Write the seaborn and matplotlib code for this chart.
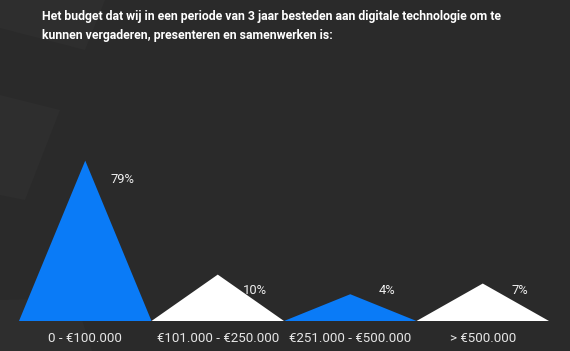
import numpy as np
import pandas as pd
import seaborn as sns
import matplotlib.pyplot as plt
from matplotlib.patches import Polygon

# data
categories = ["0 - €100.000", "€101.000 - €250.000", "€251.000 - €500.000", "> €500.000"]
values = [79, 10, 4, 7]
colors = ["#0a7bf7", "#ffffff", "#0a7bf7", "#ffffff"]
title = ("Het budget dat wij in een periode van 3 jaar besteden aan digitale technologie om te\n"
         "kunnen vergaderen, presenteren en samenwerken is:")

bg = "#2a2a2a"
sns.set_theme(style="dark")
plt.rcParams["font.family"] = ["Roboto", "DejaVu Sans"]

fig = plt.figure(figsize=(5.7, 3.51), dpi=100, facecolor=bg)

# subtle background shapes (figure pixels, origin top-left)
W, H = 570, 351
shapes = [
    [(0, 0), (105, 0), (85, 50), (0, 28)],
    [(0, 95), (60, 110), (25, 200), (0, 195)],
    [(0, 300), (75, 298), (92, 351), (0, 351)],
]
for s in shapes:
    pts = [(x / W, 1 - y / H) for x, y in s]
    fig.patches.append(Polygon(pts, closed=True, transform=fig.transFigure,
                               facecolor="#2e2e2e", edgecolor="none", zorder=0))

ax = fig.add_axes([19 / W, 30 / H, 530 / W, 171 / H])
ax.set_facecolor("none")
ax.set_zorder(2)

# heights drawn on a power scale (as in the reference)
p = 0.6
fwd = lambda v: np.sign(v) * np.abs(v) ** p
inv = lambda v: np.sign(v) * np.abs(v) ** (1 / p)
ax.set_yscale("function", functions=(fwd, inv))

df = pd.DataFrame({"cat": categories, "val": values, "color": colors})
for i, row in df.iterrows():
    xs = [i - 0.5, i, i + 0.5]
    ys = [0, row["val"], 0]
    ax.fill(xs, ys, color=row["color"], lw=0, zorder=3)
    # label a bit right of and below the apex, kept above the base
    ty = max(fwd(row["val"]) - 1.6, 2.65)
    ax.text(i + 0.28, inv(ty), f"{row['val']}%", color="#eeeeee",
            fontsize=9.4, ha="center", va="center", zorder=4)

ax.set_xlim(-0.5, 3.5)
ax.set_ylim(0, inv(14.67))
ax.set_xticks(range(len(categories)))
ax.set_xticklabels(categories, color="#e6e6e6", fontsize=9.6)
ax.tick_params(axis="x", length=0, pad=8)
ax.set_yticks([])
ax.grid(False)
for sp in ax.spines.values():
    sp.set_visible(False)

fig.text(42 / W, 1 - 10 / H, title, color="white", fontsize=8.8, fontweight="bold",
         ha="left", va="top", linespacing=1.6, zorder=3)

fig.savefig("out.png", dpi=100, facecolor=bg)
